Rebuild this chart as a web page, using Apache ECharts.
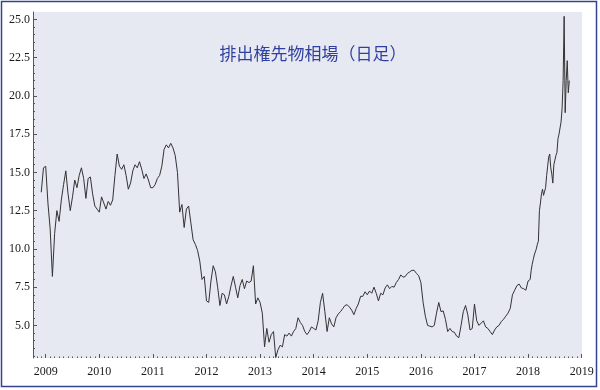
<!DOCTYPE html>
<html>
<head>
<meta charset="utf-8">
<script src="https://cdn.jsdelivr.net/npm/echarts@6/dist/echarts.min.js"></script>
<style>
html,body{margin:0;padding:0;background:#fff;}
#c{width:600px;height:390px;}
</style>
</head>
<body>
<div id="c"></div>
<script>
const v2008 = [13.7, 15.3]; // semi-monthly from 1 Dec 2008
const v2009 = [15.4, 13.0, 11.3, 8.2, 11.0, 12.5, 11.8, 13.2, 14.2, 15.1, 13.6, 12.5, 13.4, 14.5, 14.0, 14.8, 15.3, 14.6, 13.3, 14.6, 14.7, 13.6, 12.8, 12.6];
const v2010 = [12.4, 13.4, 13.0, 12.6, 13.1, 12.85, 13.2, 14.8, 16.2, 15.4, 15.2, 15.5, 14.8, 13.9, 14.3, 15.1, 15.5, 15.3, 15.7, 15.2, 14.6, 14.9, 14.5, 14.0];
const v2011 = [14.0, 14.2, 14.6, 14.8, 15.4, 16.5, 16.8, 16.6, 16.9, 16.6, 16.1, 15.0, 12.4, 12.9, 11.4, 12.6, 12.8, 11.7, 10.6, 10.3, 9.9, 9.2, 8.0, 8.2];
const v2012 = [6.6, 6.5, 7.9, 8.9, 8.5, 7.5, 6.3, 7.1, 7.0, 6.4, 6.9, 7.6, 8.2, 7.5, 6.8, 7.6, 8.0, 7.4, 7.9, 7.8, 7.9, 8.9, 6.4, 6.8];
const v2013 = [6.5, 5.8, 3.6, 4.8, 3.9, 4.4, 4.6, 2.9, 3.4, 3.7, 3.6, 4.4, 4.3, 4.5, 4.3, 4.6, 4.8, 5.5, 5.2, 5.0, 4.6, 4.4, 4.6, 4.9];
const v2014 = [4.8, 4.7, 5.3, 6.5, 7.1, 5.9, 4.6, 5.5, 5.1, 4.9, 5.5, 5.75, 5.9, 6.1, 6.3, 6.35, 6.2, 6.0, 5.7, 6.1, 6.4, 6.9, 6.9, 7.2];
const v2015 = [7.0, 7.25, 7.1, 7.5, 7.1, 6.6, 7.1, 7.0, 7.45, 7.65, 7.4, 7.55, 7.5, 7.8, 8.0, 8.3, 8.15, 8.2, 8.4, 8.5, 8.6, 8.6, 8.4, 8.25];
const v2016 = [7.8, 6.5, 5.6, 5.0, 4.95, 4.9, 5.0, 5.8, 6.5, 5.9, 5.95, 5.4, 4.6, 4.8, 4.6, 4.55, 4.3, 4.2, 5.0, 5.9, 6.3, 5.7, 4.7, 4.8];
const v2017 = [6.4, 5.3, 5.0, 5.15, 5.3, 4.9, 4.8, 4.6, 4.4, 4.7, 4.9, 5.0, 5.25, 5.4, 5.6, 5.8, 6.1, 7.0, 7.3, 7.6, 7.7, 7.45, 7.4, 7.3];
const v2018 = [7.9, 7.8, 8.0, 8.6, 9.0, 9.3, 9.6, 9.8, 10.0, 10.3, 10.5, 12.5, 13.0, 13.6, 13.9, 13.5, 13.4, 14.0, 14.8, 15.4, 16.0, 16.2, 15.3, 14.9, 14.3, 15.5, 15.8, 16.1, 16.3, 17.2, 17.5, 17.9, 18.3, 19.2, 21.0, 25.2, 18.9, 21.0, 22.3, 20.2, 21.0]; // weekly

// [start (decimal year), samples per year, values]
const segments = [
  [2008 + 22/24, 24, v2008], [2009, 24, v2009], [2010, 24, v2010], [2011, 24, v2011],
  [2012, 24, v2012], [2013, 24, v2013], [2014, 24, v2014], [2015, 24, v2015],
  [2016, 24, v2016], [2017, 24, v2017], [2018, 52, v2018]
];

const yearTicks = [2009, 2010, 2011, 2012, 2013, 2014, 2015, 2016, 2017, 2018, 2019];
const yTickLabels = [5, 7.5, 10, 12.5, 15, 17.5, 20, 22.5, 25];
const yMinorTicks = [];
for (let t = 3; t <= 25.001; t += 0.5) yMinorTicks.push(+t.toFixed(1));
const monthTicks = [];
for (let m = 2008*12 + 10; m <= 2019*12; m++) { if (m % 12) monthTicks.push(m/12); }

const data = [];
segments.forEach(([s, n, vals]) => vals.forEach((v, i) => data.push([s + i/n, v])));

const X_MIN = 2008.763, X_MAX = 2019.006, Y_MIN = 2.87, Y_MAX = 25.48;
const axisColor = '#555';
const labelFont = {fontFamily: 'Liberation Serif', fontSize: 12, color: '#1a1a1a'};

const chart = echarts.init(document.getElementById('c'), null, {renderer: 'canvas'});
chart.setOption({
  animation: false,
  backgroundColor: '#ffffff',
  grid: {left: 33, right: 18, top: 12, bottom: 32, show: true, backgroundColor: '#e6e8f2', borderWidth: 0},
  graphic: [
    {type: 'rect', shape: {x: 1.5, y: 1.5, width: 595, height: 385}, style: {fill: 'none', stroke: '#33448f', lineWidth: 1.5}, z: 100},
    {type: 'text', x: 313, y: 54, style: {text: '排出権先物相場（日足）', fill: '#2f3f9f', font: '17px "Noto Sans CJK JP"', textAlign: 'center', textVerticalAlign: 'middle'}, z: 100}
  ],
  xAxis: [
    {type: 'value', min: X_MIN, max: X_MAX, position: 'bottom',
     axisLine: {show: false}, splitLine: {show: false},
     axisTick: {show: true, inside: true, length: 4, customValues: yearTicks, lineStyle: {color: axisColor, width: 1}},
     axisLabel: Object.assign({show: true, margin: 8, customValues: yearTicks, formatter: v => String(Math.round(v))}, labelFont)},
    {type: 'value', min: X_MIN, max: X_MAX, position: 'bottom',
     axisLine: {show: false}, splitLine: {show: false},
     axisTick: {show: true, inside: true, length: 1.5, customValues: monthTicks, lineStyle: {color: axisColor, width: 1}},
     axisLabel: {show: false}}
  ],
  yAxis: [
    {type: 'value', min: Y_MIN, max: Y_MAX, position: 'left',
     axisLine: {show: true, lineStyle: {color: axisColor, width: 1}}, splitLine: {show: false},
     axisTick: {show: true, inside: true, length: 4, customValues: yTickLabels, lineStyle: {color: axisColor, width: 1}},
     axisLabel: Object.assign({show: true, margin: 3, customValues: yTickLabels, formatter: v => v.toFixed(1)}, labelFont)},
    {type: 'value', min: Y_MIN, max: Y_MAX, position: 'left', offset: 0,
     axisLine: {show: false}, splitLine: {show: false},
     axisTick: {show: true, inside: true, length: 2, customValues: yMinorTicks, lineStyle: {color: axisColor, width: 1}},
     axisLabel: {show: false}}
  ],
  series: [{
    type: 'line', data: data, xAxisIndex: 0, yAxisIndex: 0,
    showSymbol: false, symbol: 'none', smooth: false,
    lineStyle: {color: '#333', width: 1}
  }]
});
</script>
</body>
</html>
